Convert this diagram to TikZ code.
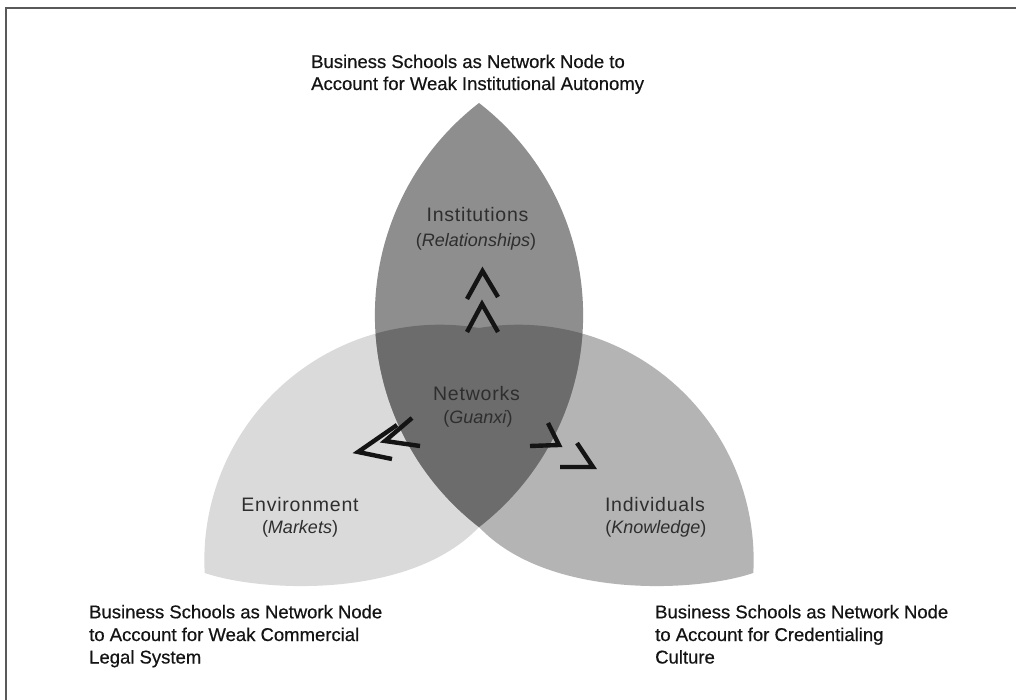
\documentclass[tikz,border=0pt]{standalone}
\usepackage{fontspec}
\setmainfont{Liberation Sans}
\definecolor{petaltop}{HTML}{8E8E8E}
\definecolor{petalleft}{HTML}{DADADA}
\definecolor{petalright}{HTML}{B4B4B4}
\definecolor{core}{HTML}{6C6C6C}
\tikzset{
  frame/.style={draw=black!65, line width=2pt},
  chevron/.style={line width=4.4pt, line join=miter, draw=black!92},
  note/.style={inner sep=0pt, anchor=base west, text=black!92,
    font=\fontsize{18.5}{22}\selectfont\addfontfeature{FakeBold=0.5}},
  head/.style={inner sep=0pt, anchor=base, text=black!82,
    font=\fontsize{19.5}{22}\selectfont\addfontfeature{LetterSpace=4}},
  sub/.style={inner sep=0pt, anchor=base, text=black!82,
    font=\fontsize{18}{22}\selectfont},
}
% petal outlines (one unit = 1pt, y grows upwards)
\newcommand\toppetal{(479,-103) arc[start angle=127.7, end angle=232.3, radius=268]
  arc[start angle=-52.3, end angle=52.3, radius=268] -- cycle}
\newcommand\leftpetal{(205,-573) .. controls (260,-592) and (410,-600) .. (479,-527)
  -- (479,-328) arc[start angle=80.4, end angle=183.2, radius=235.4] -- cycle}
\newcommand\rightpetal{(753,-573) .. controls (698,-592) and (548,-600) .. (479,-527)
  -- (479,-328) arc[start angle=99.6, end angle=-3.2, radius=235.4] -- cycle}
\begin{document}
\begin{tikzpicture}[x=1pt,y=1pt]
  \clip (0,0) rectangle (1016,-700);
  \fill[white] (0,0) rectangle (1016,-700);
  \draw[frame] (6,-720) -- (6,-8) -- (1030,-8);

  % the three spheres
  \fill[petalleft] \leftpetal;
  \fill[petalright] \rightpetal;
  \fill[petaltop] \toppetal;
  \begin{scope}
    \clip \toppetal;
    \fill[core] \leftpetal;
    \fill[core] \rightpetal;
  \end{scope}

  % labels inside the spheres
  \node[head] (inst) at (477.5,-221.7) {Institutions};
  \node[sub] (rel) at (476,-246.7) {(\textit{Relationships})};
  \node[head] (net) at (476.5,-400) {Networks};
  \node[sub] (gx) at (478,-423.3) {(\textit{Guanxi}\/)};
  \node[head] (env) at (300,-511.7) {Environment};
  \node[sub] (mkt) at (300,-533.3) {(\textit{Markets})};
  \node[head] (ind) at (655,-511.7) {Individuals};
  \node[sub] (knw) at (655.8,-533.3) {(\textit{Knowledge})};

  % chevrons pointing outwards from the core
  \draw[chevron] (467,-299) -- (482.5,-271) -- (498,-297);
  \draw[chevron] (467,-332) -- (482,-304) -- (498,-332);
  \draw[chevron] (397,-425) -- (358,-452) -- (392,-459);
  \draw[chevron] (412,-418) -- (385,-441) -- (420,-446);
  \draw[chevron] (548,-423) -- (559,-445) -- (530,-446);
  \draw[chevron] (577,-443) -- (593,-467) -- (560,-467);

  % outer notes
  \node[note] (t1) at (311,-68) {Business Schools as Network Node to};
  \node[note] (t2) at (311,-90) {Account for Weak Institutional Autonomy};
  \node[note] (l1) at (89,-618.3) {Business Schools as Network Node};
  \node[note] (l2) at (89,-641) {to Account for Weak Commercial};
  \node[note] (l3) at (89,-663.5) {Legal System};
  \node[note] (r1) at (655,-618.3) {Business Schools as Network Node};
  \node[note] (r2) at (655,-641) {to Account for Credentialing};
  \node[note] (r3) at (655,-663.5) {Culture};
\end{tikzpicture}
\end{document}
